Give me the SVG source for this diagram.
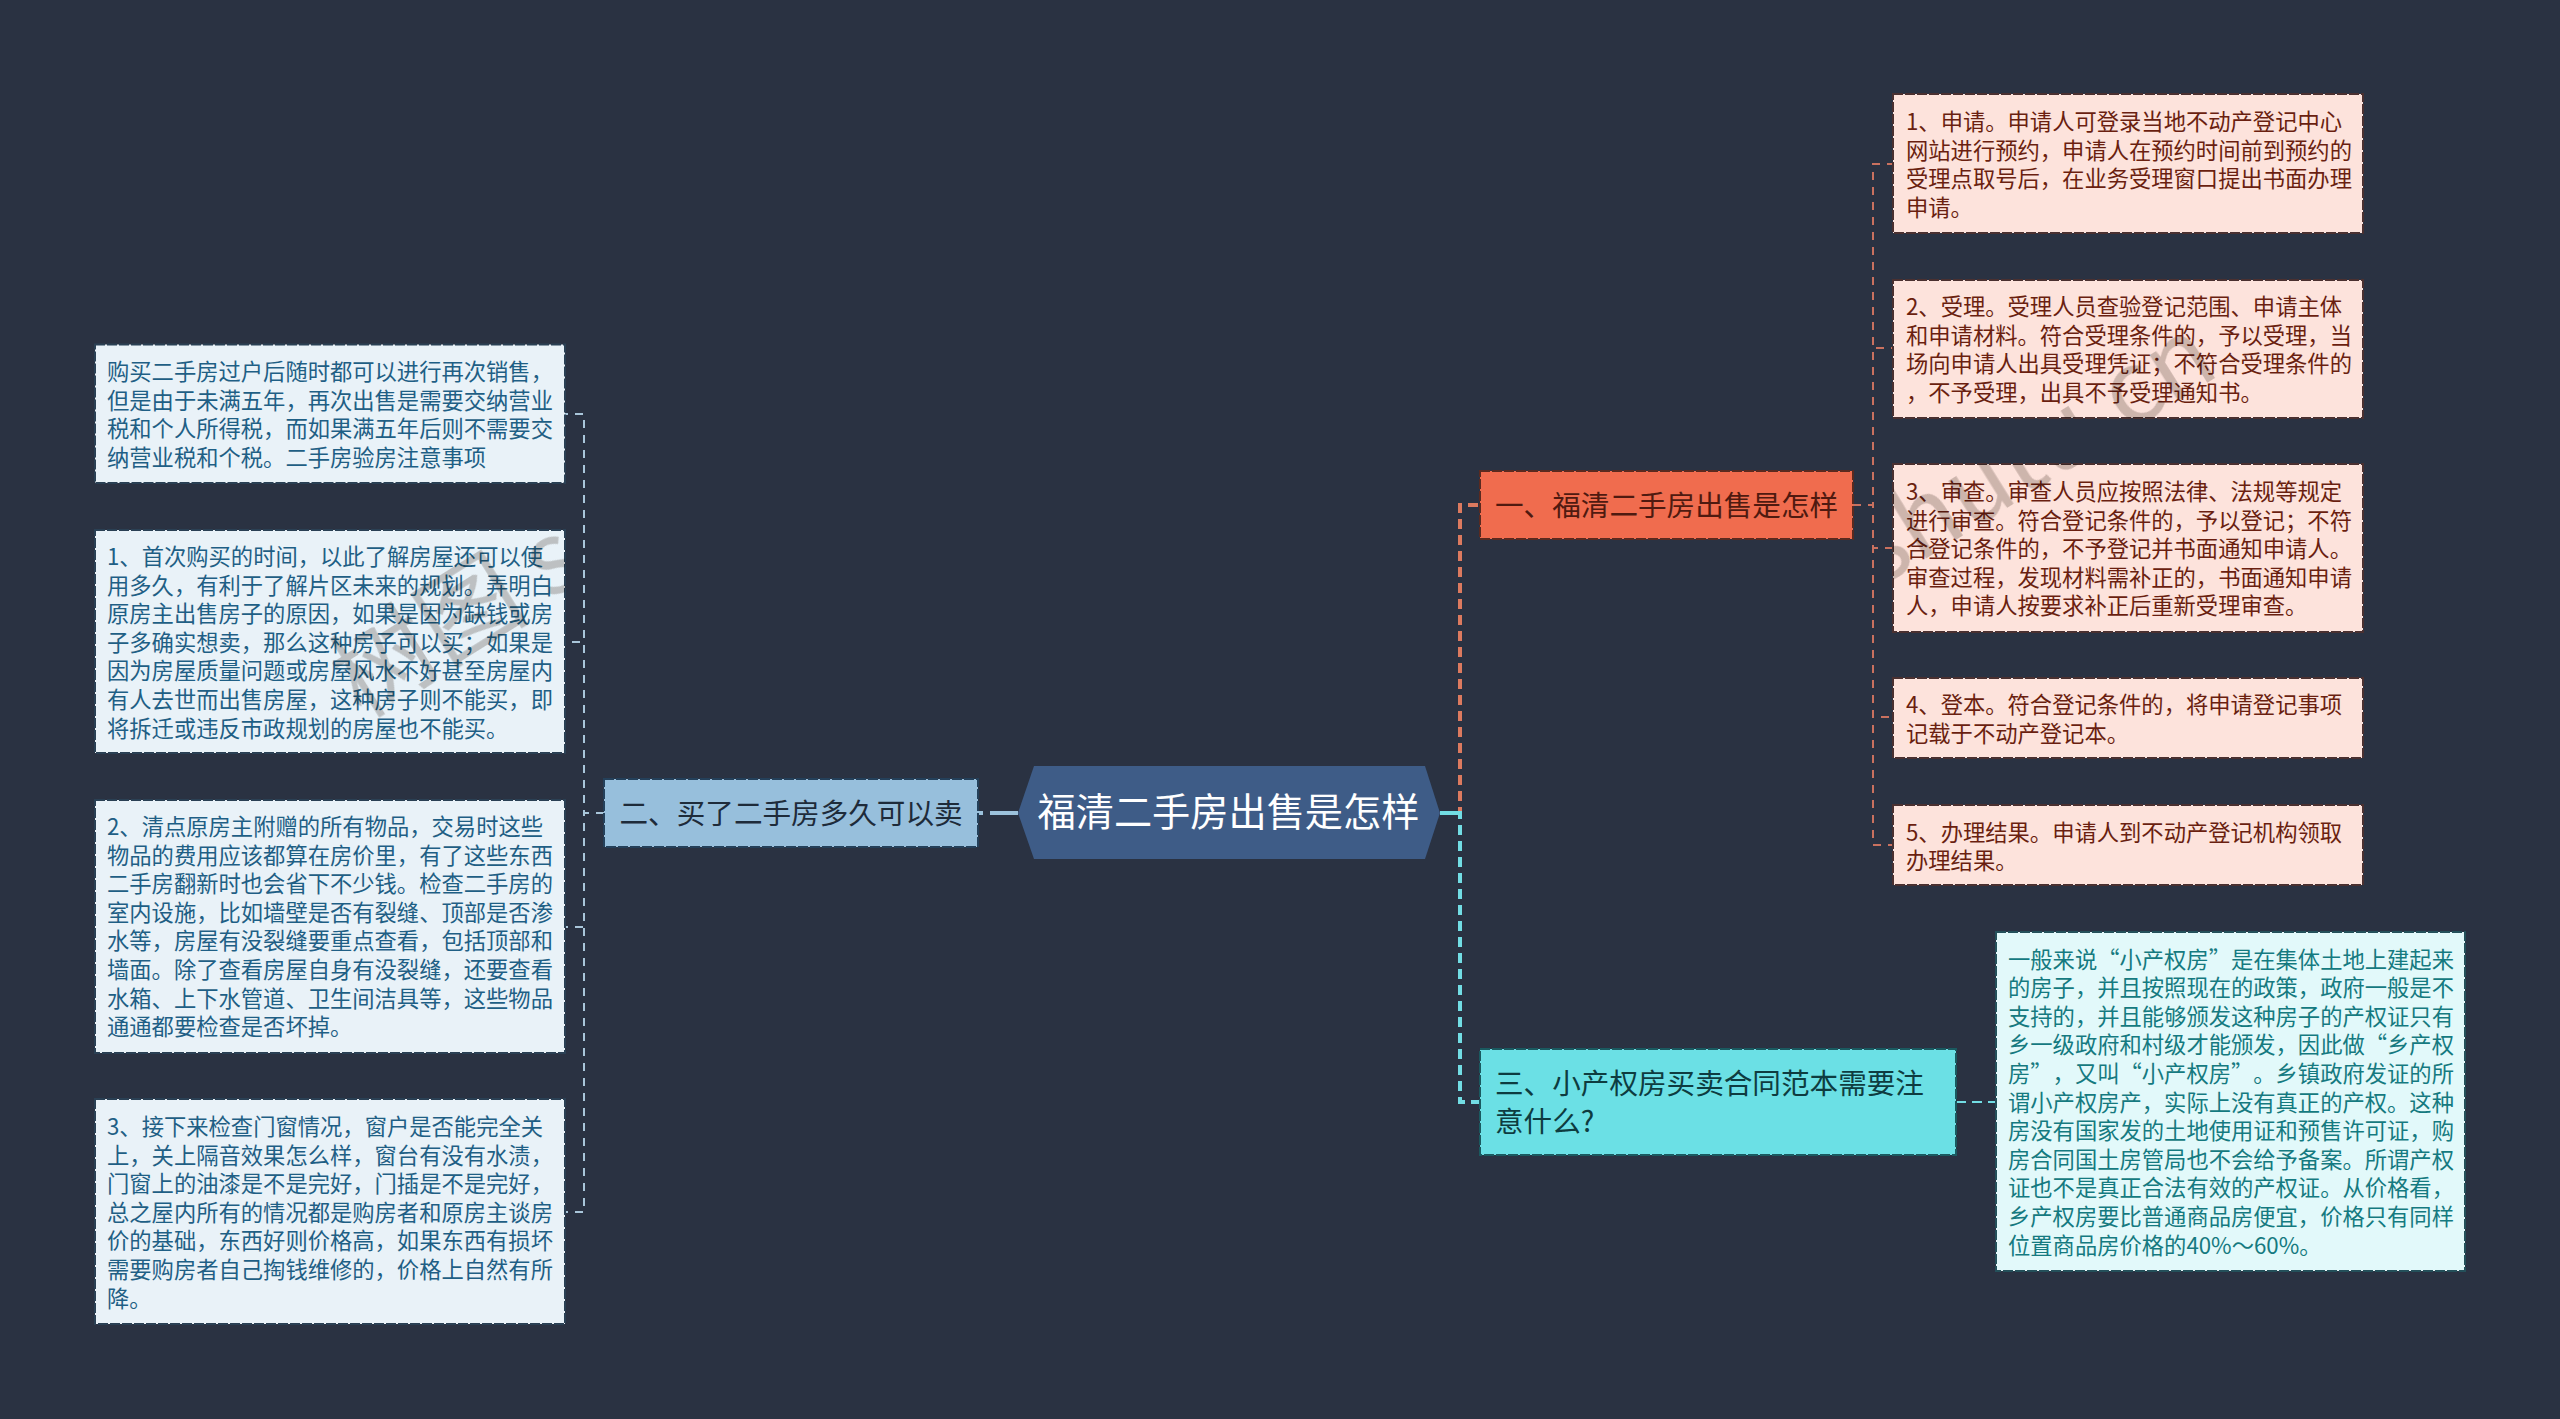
<svg xmlns="http://www.w3.org/2000/svg" width="2560" height="1419" viewBox="0 0 2560 1419">
<style>
text{font-family:"Noto Sans CJK SC","Noto Sans",sans-serif;text-spacing-trim:space-all}
.c{fill:none}
.t{stroke-width:4;stroke-dasharray:10 6}
.h{stroke-width:2;stroke-dasharray:8 7}
.or{stroke:#dc7a5f}.tl{stroke:#72dde4}.bl{stroke:#9cc2dc}.orl{stroke:#c9715f}.bll{stroke:#a9c6da}
.n{stroke-width:2;stroke-dasharray:10 2}
.pe{fill:#fde3dc;stroke:#4a3030}.lb{fill:#e9f2f8;stroke:#2a4054}.lt{fill:#e2f9fa;stroke:#24505a}
.d{font-size:22.3px}
.pt{fill:#6a1f10}.bt{fill:#1f5f85}.gt{fill:#157a80}
.b{font-size:28.6px}
.wm{font-size:100px;fill:#cfcbc8}
.wg{mix-blend-mode:multiply}
</style>
<defs>
<clipPath id="nodes">
<rect x="1893" y="94" width="470" height="139"/><rect x="1893" y="280" width="470" height="138"/><rect x="1893" y="464" width="470" height="168"/><rect x="95" y="344.5" width="470" height="138.5"/><rect x="95" y="530" width="470" height="223"/>
</clipPath>
</defs>
<rect width="2560" height="1419" fill="#2a3242"/>
<g id="connectors">
<path class="c t or" d="M1440 813H1460V505H1480"/>
<path class="c t tl" d="M1440 813H1460V1102H1480"/>
<path class="c" stroke="#72dde4" stroke-width="4" d="M1440 813H1460"/>
<path class="c" stroke="#9cc2dc" stroke-width="4" stroke-dasharray="28 7 5 10" d="M1018 813H978"/>
<path class="c h orl" d="M1853 505H1873V164H1893"/>
<path class="c h orl" d="M1853 505H1873V348H1893"/>
<path class="c h orl" d="M1853 505H1873V548H1893"/>
<path class="c h orl" d="M1853 505H1873V717H1893"/>
<path class="c h orl" d="M1853 505H1873V845H1893"/>
<path class="c h bll" d="M604 813H584V414H565"/>
<path class="c h bll" d="M604 813H584V642H565"/>
<path class="c h bll" d="M604 813H584V927H565"/>
<path class="c h bll" d="M604 813H584V1212H565"/>
<path class="c tl" stroke-width="2" stroke-dasharray="10 6" d="M1956 1102H1996"/>
</g>
<g id="root">
<path d="M1034 766H1425L1440 813L1425 859H1034L1018 813Z" fill="#3e5c87"/>
<text x="1037.5" y="826" font-size="38.2" fill="#fff">福清二手房出售是怎样</text>
</g>
<g id="branch-1">
<rect x="1480" y="471" width="373" height="68" fill="#f06c4e" stroke="#5a2a20" class="n"/>
<text class="b" x="1495" y="516" fill="#4f1a10">一、福清二手房出售是怎样</text>
</g>
<g id="branch-2">
<rect x="604" y="779" width="374" height="68" fill="#97bfdc" stroke="#24405a" class="n"/>
<text class="b" x="619.5" y="824" fill="#1e2b3a">二、买了二手房多久可以卖</text>
</g>
<g id="branch-3">
<rect x="1480" y="1049" width="476" height="106" fill="#6be0e5" stroke="#1a5a60" class="n"/>
<text class="b" fill="#0e3c40"><tspan x="1495" y="1094">三、小产权房买卖合同范本需要注</tspan><tspan x="1495" y="1131.5">意什么?</tspan></text>
</g>
<g id="r1"><rect class="n pe" x="1893" y="94" width="470" height="139"/>
<text class="d pt"><tspan x="1906" y="130">1、申请。申请人可登录当地不动产登记中心</tspan><tspan x="1906" y="158.6">网站进行预约，申请人在预约时间前到预约的</tspan><tspan x="1906" y="187.2">受理点取号后，在业务受理窗口提出书面办理</tspan><tspan x="1906" y="215.8">申请。</tspan></text></g>
<g id="r2"><rect class="n pe" x="1893" y="280" width="470" height="138"/>
<text class="d pt"><tspan x="1906" y="315">2、受理。受理人员查验登记范围、申请主体</tspan><tspan x="1906" y="343.6">和申请材料。符合受理条件的，予以受理，当</tspan><tspan x="1906" y="372.2">场向申请人出具受理凭证；不符合受理条件的</tspan><tspan x="1906" y="400.8">，不予受理，出具不予受理通知书。</tspan></text></g>
<g id="r3"><rect class="n pe" x="1893" y="464" width="470" height="168"/>
<text class="d pt"><tspan x="1906" y="500">3、审查。审查人员应按照法律、法规等规定</tspan><tspan x="1906" y="528.6">进行审查。符合登记条件的，予以登记；不符</tspan><tspan x="1906" y="557.2">合登记条件的，不予登记并书面通知申请人。</tspan><tspan x="1906" y="585.8">审查过程，发现材料需补正的，书面通知申请</tspan><tspan x="1906" y="614.4">人，申请人按要求补正后重新受理审查。</tspan></text></g>
<g id="r4"><rect class="n pe" x="1893" y="678" width="470" height="80"/>
<text class="d pt"><tspan x="1906" y="713">4、登本。符合登记条件的，将申请登记事项</tspan><tspan x="1906" y="741.6">记载于不动产登记本。</tspan></text></g>
<g id="r5"><rect class="n pe" x="1893" y="805" width="470" height="80"/>
<text class="d pt"><tspan x="1906" y="840.5">5、办理结果。申请人到不动产登记机构领取</tspan><tspan x="1906" y="869.1">办理结果。</tspan></text></g>
<g id="g1"><rect class="n lt" x="1996" y="932" width="469" height="339"/>
<text class="d gt"><tspan x="2008" y="967.5">一般来说“小产权房”是在集体土地上建起来</tspan><tspan x="2008" y="996.1">的房子，并且按照现在的政策，政府一般是不</tspan><tspan x="2008" y="1024.7">支持的，并且能够颁发这种房子的产权证只有</tspan><tspan x="2008" y="1053.3">乡一级政府和村级才能颁发，因此做“乡产权</tspan><tspan x="2008" y="1081.9">房”，又叫“小产权房”。乡镇政府发证的所</tspan><tspan x="2008" y="1110.5">谓小产权房产，实际上没有真正的产权。这种</tspan><tspan x="2008" y="1139.1">房没有国家发的土地使用证和预售许可证，购</tspan><tspan x="2008" y="1167.7">房合同国土房管局也不会给予备案。所谓产权</tspan><tspan x="2008" y="1196.3">证也不是真正合法有效的产权证。从价格看，</tspan><tspan x="2008" y="1224.9">乡产权房要比普通商品房便宜，价格只有同样</tspan><tspan x="2008" y="1253.5">位置商品房价格的40%～60%。</tspan></text></g>
<g id="l1"><rect class="n lb" x="95" y="344.5" width="470" height="138.5"/>
<text class="d bt"><tspan x="107" y="380">购买二手房过户后随时都可以进行再次销售，</tspan><tspan x="107" y="408.6">但是由于未满五年，再次出售是需要交纳营业</tspan><tspan x="107" y="437.2">税和个人所得税，而如果满五年后则不需要交</tspan><tspan x="107" y="465.8">纳营业税和个税。二手房验房注意事项</tspan></text></g>
<g id="l2"><rect class="n lb" x="95" y="530" width="470" height="223"/>
<text class="d bt"><tspan x="107" y="565">1、首次购买的时间，以此了解房屋还可以使</tspan><tspan x="107" y="593.6">用多久，有利于了解片区未来的规划。弄明白</tspan><tspan x="107" y="622.2">原房主出售房子的原因，如果是因为缺钱或房</tspan><tspan x="107" y="650.8">子多确实想卖，那么这种房子可以买；如果是</tspan><tspan x="107" y="679.4">因为房屋质量问题或房屋风水不好甚至房屋内</tspan><tspan x="107" y="708">有人去世而出售房屋，这种房子则不能买，即</tspan><tspan x="107" y="736.6">将拆迁或违反市政规划的房屋也不能买。</tspan></text></g>
<g id="l3"><rect class="n lb" x="95" y="800" width="470" height="253"/>
<text class="d bt"><tspan x="107" y="835">2、清点原房主附赠的所有物品，交易时这些</tspan><tspan x="107" y="863.6">物品的费用应该都算在房价里，有了这些东西</tspan><tspan x="107" y="892.2">二手房翻新时也会省下不少钱。检查二手房的</tspan><tspan x="107" y="920.8">室内设施，比如墙壁是否有裂缝、顶部是否渗</tspan><tspan x="107" y="949.4">水等，房屋有没裂缝要重点查看，包括顶部和</tspan><tspan x="107" y="978">墙面。除了查看房屋自身有没裂缝，还要查看</tspan><tspan x="107" y="1006.6">水箱、上下水管道、卫生间洁具等，这些物品</tspan><tspan x="107" y="1035.2">通通都要检查是否坏掉。</tspan></text></g>
<g id="l4"><rect class="n lb" x="95" y="1099" width="470" height="225"/>
<text class="d bt"><tspan x="107" y="1135">3、接下来检查门窗情况，窗户是否能完全关</tspan><tspan x="107" y="1163.6">上，关上隔音效果怎么样，窗台有没有水渍，</tspan><tspan x="107" y="1192.2">门窗上的油漆是不是完好，门插是不是完好，</tspan><tspan x="107" y="1220.8">总之屋内所有的情况都是购房者和原房主谈房</tspan><tspan x="107" y="1249.4">价的基础，东西好则价格高，如果东西有损坏</tspan><tspan x="107" y="1278">需要购房者自己掏钱维修的，价格上自然有所</tspan><tspan x="107" y="1306.6">降。</tspan></text></g>
<g class="wg" clip-path="url(#nodes)">
<text class="wm" transform="translate(361 719) rotate(-32)">树图 shutu.cn</text>
<text class="wm" transform="translate(1690 706) rotate(-32)">树图 shutu.cn</text>
</g>
</svg>
